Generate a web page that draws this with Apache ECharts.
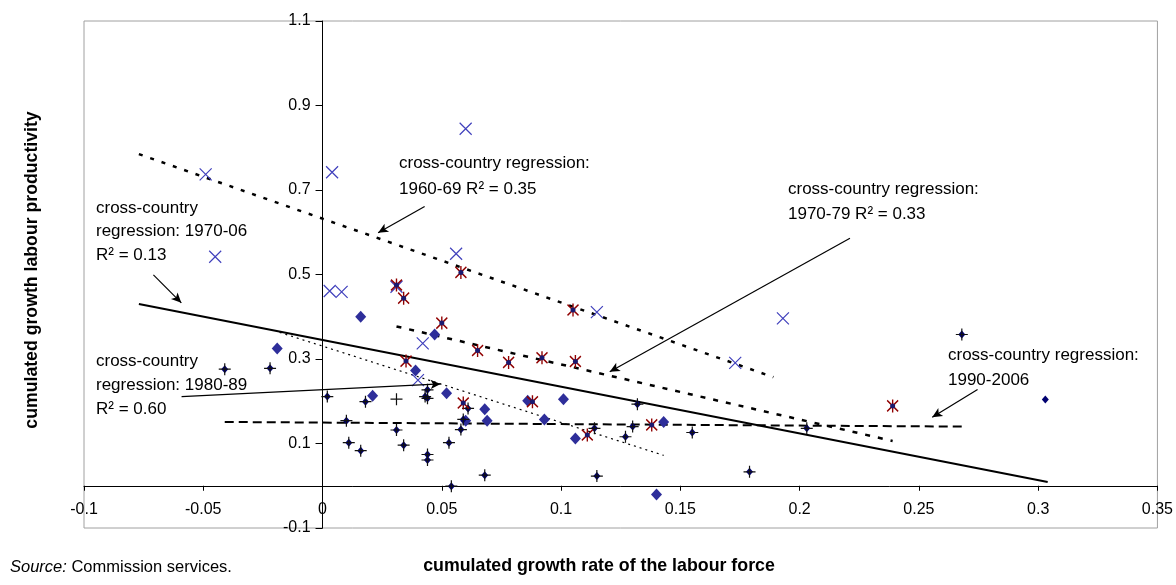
<!DOCTYPE html>
<html><head><meta charset="utf-8">
<script src="https://cdn.jsdelivr.net/npm/echarts@6/dist/echarts.min.js"></script>
<style>html,body{margin:0;padding:0;background:#fff}#c{width:1176px;height:585px}</style>
</head><body><div id="c"></div>
<script>
// ---- axis settings ----
const xRange = [-0.1, 0.35];
const xStep = 0.05;
const yRange = [-0.1, 1.1];
const yStep = 0.2;

// ---- data (x = cumulated growth of labour force, y = cumulated growth labour productivity) ----
const period1960 = [[-0.049,0.737],[-0.045,0.542],[0.003,0.461],[0.004,0.742],[0.008,0.459],[0.031,0.471],[0.040,0.250],[0.042,0.337],[0.056,0.549],[0.060,0.845],[0.115,0.411],[0.173,0.291],[0.193,0.396]];
const period1970 = [[0.031,0.475],[0.034,0.444],[0.035,0.295],[0.050,0.385],[0.058,0.505],[0.059,0.196],[0.065,0.320],[0.078,0.292],[0.088,0.199],[0.092,0.303],[0.105,0.416],[0.106,0.294],[0.111,0.120],[0.138,0.144],[0.239,0.189]];
const period1980 = [[-0.019,0.325],[0.016,0.400],[0.021,0.213],[0.039,0.273],[0.047,0.358],[0.052,0.219],[0.060,0.154],[0.068,0.181],[0.069,0.154],[0.086,0.201],[0.093,0.157],[0.101,0.205],[0.106,0.112],[0.140,-0.021],[0.143,0.151]];
const period1990 = [[-0.041,0.276],[-0.022,0.278],[0.002,0.211],[0.010,0.154],[0.011,0.102],[0.016,0.083],[0.018,0.199],[0.031,0.132],[0.034,0.096],[0.043,0.211],[0.044,0.227],[0.044,0.207],[0.044,0.074],[0.044,0.061],[0.053,0.102],[0.054,-0.001],[0.058,0.133],[0.059,0.157],[0.061,0.183],[0.068,0.025],[0.114,0.136],[0.115,0.023],[0.127,0.116],[0.130,0.140],[0.132,0.193],[0.155,0.126],[0.179,0.033],[0.203,0.136],[0.268,0.358],[0.303,0.204]];
const plusMarks = [[-0.041,0.276],[-0.022,0.278],[0.002,0.211],[0.010,0.154],[0.011,0.102],[0.016,0.083],[0.018,0.199],[0.031,0.132],[0.031,0.205],[0.034,0.096],[0.043,0.211],[0.044,0.227],[0.044,0.207],[0.044,0.074],[0.044,0.061],[0.053,0.102],[0.054,-0.001],[0.058,0.133],[0.059,0.157],[0.061,0.183],[0.068,0.025],[0.114,0.136],[0.115,0.023],[0.127,0.116],[0.130,0.140],[0.132,0.193],[0.155,0.126],[0.179,0.033],[0.203,0.136],[0.268,0.358]];

// ---- regression lines (end points) ----
const reg1960 = [[-0.077,0.785],[0.189,0.257]];
const reg1970 = [[0.031,0.377],[0.239,0.106]];
const reg1970to2006 = [[-0.077,0.430],[0.304,0.009]];
const reg1980 = [[-0.018,0.363],[0.143,0.072]];
const reg1990 = [[-0.041,0.151],[0.268,0.140]];

// ---- annotation arrows (data coordinates: from, to) ----
const arrows = [
  [[-0.0709,0.499],[-0.0592,0.433]],
  [[0.0428,0.661],[0.0233,0.599]],
  [[0.2211,0.586],[0.1204,0.270]],
  [[-0.0591,0.211],[0.0495,0.241]],
  [[0.2746,0.228],[0.2556,0.162]]
];

// ---- annotation texts ----
const notes = [
  {lines:['cross-country','regression: 1970-06','R\u00b2 = 0.13'], pos:[96,208,23.5]},
  {lines:['cross-country regression:','1960-69 R\u00b2 = 0.35'], pos:[399,163.5,26]},
  {lines:['cross-country regression:','1970-79 R\u00b2 = 0.33'], pos:[788,189,25.5]},
  {lines:['cross-country','regression: 1980-89','R\u00b2 = 0.60'], pos:[96,361,24]},
  {lines:['cross-country regression:','1990-2006'], pos:[948,355,25]}
];

const FONT = 'Liberation Sans, Arial, sans-serif';
const GRID = {left:84, right:17, top:21, bottom:57};
const chart = echarts.init(document.getElementById('c'), null, {renderer:'canvas'});

const graphics = [];
notes.forEach(n => {
  n.lines.forEach((t, i) => {
    graphics.push({type:'text', x:n.pos[0], y:n.pos[1] + i*n.pos[2], silent:true,
      style:{text:t, fontSize:17, fontFamily:FONT, fill:'#000', textAlign:'left', textVerticalAlign:'middle'}});
  });
});
graphics.push({type:'text', x:599, y:566, silent:true,
  style:{text:'cumulated growth rate of the labour force', fontSize:17.8, fontWeight:'bold', fontFamily:FONT, fill:'#000', textAlign:'center', textVerticalAlign:'middle'}});
graphics.push({type:'text', x:32.5, y:270, rotation:Math.PI/2, silent:true,
  style:{text:'cumulated growth labour productivity', fontSize:17.7, fontWeight:'bold', fontFamily:FONT, fill:'#000', textAlign:'center', textVerticalAlign:'middle'}});
graphics.push({type:'text', x:10, y:567, silent:true,
  style:{text:'{i|Source:} Commission services.', fontSize:16.5, fontFamily:FONT, fill:'#000', textAlign:'left', textVerticalAlign:'middle',
    rich:{i:{fontStyle:'italic', fontSize:16.5, fontFamily:FONT, fill:'#000'}}}});

function regLine(data, style) {
  return {type:'line', data:data, symbol:'none', silent:true, z:2,
    lineStyle:Object.assign({color:'#000', cap:'butt'}, style)};
}

const option = {
  animation:false,
  backgroundColor:'#fff',
  grid:Object.assign({show:true, borderColor:'#a0a0a0', borderWidth:1, backgroundColor:'#fff'}, GRID),
  xAxis:{type:'value', min:xRange[0], max:xRange[1], interval:xStep, position:'bottom', offset:0,
    axisLine:{onZero:false, lineStyle:{color:'#000', width:1}},
    axisTick:{show:true, inside:false, length:5, lineStyle:{color:'#000'}},
    axisLabel:{fontSize:16, fontFamily:FONT, color:'#000', margin:16},
    splitLine:{show:false}},
  yAxis:{type:'value', min:yRange[0], max:yRange[1], interval:yStep, position:'left', offset:0,
    axisLine:{onZero:false, lineStyle:{color:'#000', width:1}},
    axisTick:{show:true, inside:false, length:7, lineStyle:{color:'#000'}},
    axisLabel:{fontSize:16, fontFamily:FONT, color:'#000', margin:12},
    splitLine:{show:false}},
  graphic:graphics,
  series:[
    regLine(reg1960, {width:2.5, type:[4,8]}),
    regLine(reg1970, {width:2.5, type:[5,8]}),
    regLine(reg1970to2006, {width:2, type:'solid'}),
    regLine(reg1980, {width:1.2, type:[2,4]}),
    regLine(reg1990, {width:2, type:[9,5]}),
    {type:'scatter', name:'1960-69', data:period1960, symbol:'path://M0,0L10,10M10,0L0,10', symbolSize:12, z:3,
      itemStyle:{color:'rgba(0,0,0,0)', borderColor:'#4040bc', borderWidth:1.2, opacity:1}},
    {type:'scatter', name:'1980-89', data:period1980, symbol:'diamond', symbolSize:[11,12], z:3,
      itemStyle:{color:'#2e2e9a', opacity:1}},
    {type:'scatter', name:'1990-2006', data:period1990, symbol:'diamond', symbolSize:[7,8], z:3,
      itemStyle:{color:'#000070', opacity:1}},
    {type:'scatter', name:'all', data:plusMarks, symbol:'path://M5,0L5,10M0,5L10,5', symbolSize:12, z:3,
      itemStyle:{color:'rgba(0,0,0,0)', borderColor:'#111', borderWidth:1.2, opacity:1}},
    {type:'scatter', name:'1970-79', data:period1970, symbol:'path://M0,1L10,11M10,1L0,11M5,0L5,12', symbolSize:[11,13], z:3,
      itemStyle:{color:'rgba(0,0,0,0)', borderColor:'#900000', borderWidth:1.5, opacity:1}},
    {type:'scatter', name:'1970-79 centre', data:period1970, symbol:'circle', symbolSize:5, z:3,
      itemStyle:{color:'#1a1a70', opacity:1}},
    {type:'line', data:[], z:4, silent:true,
      markLine:{silent:true, symbol:['none','arrow'], symbolSize:[7,10], animation:false,
        label:{show:false}, lineStyle:{color:'#000', width:1.2, type:'solid'},
        data:arrows.map(a => [{coord:a[0]},{coord:a[1]}])}}
  ]
};
chart.setOption(option);

// move the axes so that they cross at the origin (x = 0, y = 0)
const x0 = chart.convertToPixel({xAxisIndex:0}, 0);
const y0 = chart.convertToPixel({yAxisIndex:0}, 0);
const bottomEdge = 585 - GRID.bottom;
chart.setOption({
  xAxis:{offset:-(bottomEdge - y0)},
  yAxis:{offset:-(x0 - GRID.left)}
});
</script>
</body></html>
